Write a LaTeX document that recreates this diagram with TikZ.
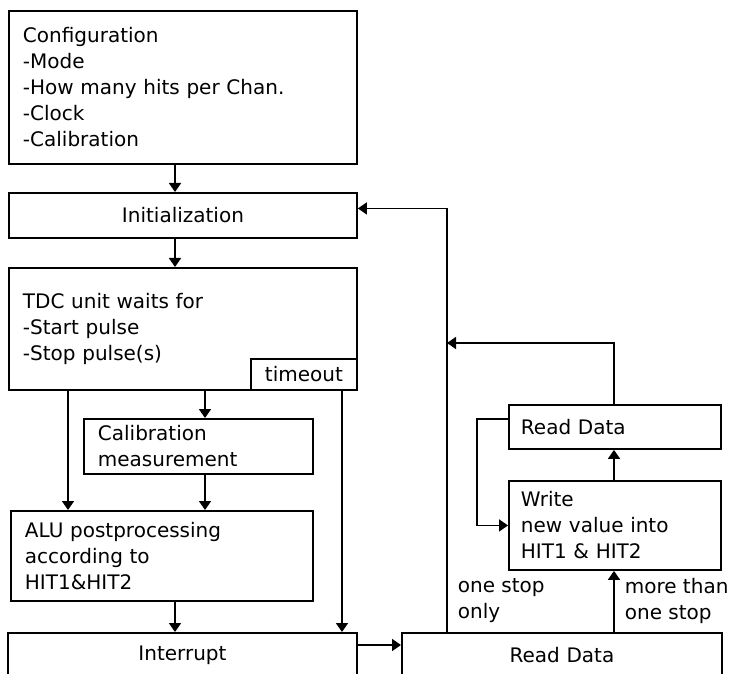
\documentclass[tikz,border=0pt]{standalone}
\usepackage{fontspec}
\setmainfont{DejaVu Sans}
\usetikzlibrary{arrows.meta}

\begin{document}
\begin{tikzpicture}[x=1pt,y=-1pt,line width=1.7pt,
		font=\fontsize{20}{26}\selectfont]
		\fill[white] (0,0) rectangle (732,674);
		\useasboundingbox (0,0) rectangle (732,674);
		% columns and rows of the connectors
		\coordinate (colA) at (68,0);
		\coordinate (colB) at (205,0);
		\coordinate (colC) at (175,0);
		\coordinate (colD) at (342,0);
		\coordinate (colE) at (447,0);
		\coordinate (colF) at (614,0);
		\coordinate (rowA) at (0,645);
		\coordinate (rowB) at (0,343);
		\begin{scope}[every node/.style={draw,line width=1.9pt,anchor=north west,
				inner xsep=14pt,inner ysep=0pt,align=left}]
			\node[text width=320pt,minimum height=153pt] (config) at (8,10)
				{Configuration\\-Mode\\-How many hits per Chan.\\-Clock\\-Calibration};
			\node[text width=320pt,minimum height=45pt,align=center] (init) at (8,192) {Initialization};
			\node[text width=320pt,minimum height=122pt] (tdc) at (8,267)
				{TDC unit waits for\\-Start pulse\\-Stop pulse(s)\\[4pt]};
			\node[text width=98pt,inner xsep=4pt,minimum height=31pt,align=center] (timeout) at (250,358) {timeout};
			\node[text width=201pt,minimum height=55pt] (calib) at (83,418) {Calibration\\measurement};
			\node[text width=274pt,minimum height=90pt] (alu) at (10,510)
				{ALU postprocessing\\according to\\HIT1\&HIT2};
			\node[text width=321pt,minimum height=44pt,align=center] (interrupt) at (7,632) {Interrupt};
			\node[text width=292pt,minimum height=44pt,align=center] (rdbot) at (401,632) {Read Data};
			\node[text width=188pt,inner xsep=12pt,minimum height=89pt] (write) at (508,480)
				{Write\\new value into\\HIT1 \& HIT2};
			\node[text width=188pt,inner xsep=12pt,minimum height=44pt] (rdtop) at (508,404) {Read Data};
		\end{scope}
		\begin{scope}[>={Triangle[width=12pt,length=9pt]}]
			\draw[->] (config.south -| colC) -- (init.north -| colC);
			\draw[->] (init.south -| colC) -- (tdc.north -| colC);
			\draw[->] (tdc.south -| colA) -- (alu.north -| colA);
			\draw[->] (tdc.south -| colB) -- (calib.north -| colB);
			\draw[->] (calib.south -| colB) -- (alu.north -| colB);
			\draw[->] (alu.south -| colC) -- (interrupt.north -| colC);
			\draw[->] (tdc.south -| colD) -- (interrupt.north -| colD);
			\draw[->] (interrupt.east |- rowA) -- (rdbot.west |- rowA);
			\draw[->] (rdbot.north -| colE) |- ([yshift=7pt]init.east);
			\draw[->] (rdbot.north -| colF) -- (write.south -| colF);
			\draw[->] (write.north -| colF) -- (rdtop.south -| colF);
			\draw[->] (rdtop.north -| colF) |- (colE |- rowB);
			\draw[->] ([yshift=8pt]rdtop.west) -- ++(-31,0) |- (write.west);
		\end{scope}
		\node[anchor=west,align=left,inner sep=0pt] (onestop) at (457,601) {one stop\\only};
		\node[anchor=west,align=left,inner sep=0pt] (morestop) at (624,601) {more than\\one stop};
	\end{tikzpicture}
\end{document}
